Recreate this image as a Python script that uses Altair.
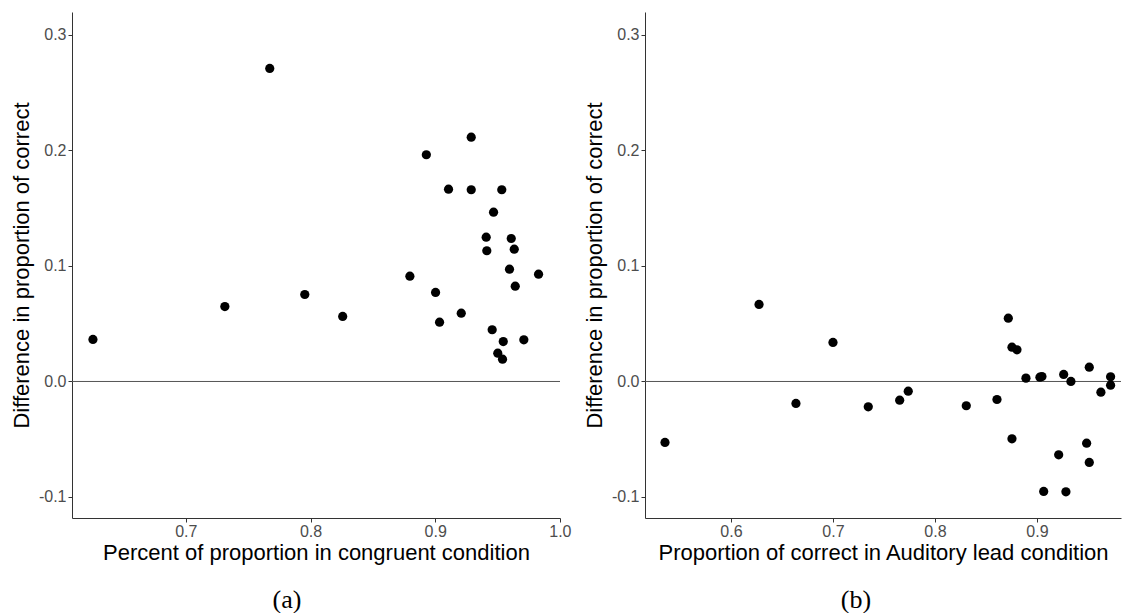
import altair as alt
import pandas as pd

# Panel (a): congruent condition
a_x = [0.6255, 0.7313, 0.7673, 0.7954, 0.8258, 0.8797, 0.8929, 0.9003, 0.9035,
       0.9107, 0.9209, 0.9289, 0.9289, 0.9409, 0.9414, 0.9468, 0.9534, 0.9457,
       0.9610, 0.9634, 0.9596, 0.9642, 0.9829, 0.9546, 0.9711, 0.9502, 0.9540]
a_y = [0.0364, 0.0649, 0.2710, 0.0753, 0.0563, 0.0912, 0.1963, 0.0771, 0.0513,
       0.1665, 0.0591, 0.2115, 0.1660, 0.1249, 0.1132, 0.1466, 0.1660, 0.0448,
       0.1238, 0.1145, 0.0972, 0.0825, 0.0929, 0.0346, 0.0361, 0.0245, 0.0193]

# Panel (b): auditory lead condition
b_x = [0.5353, 0.6275, 0.6637, 0.7000, 0.7346, 0.7654, 0.7738, 0.8307, 0.8608,
       0.8719, 0.8755, 0.8804, 0.8755, 0.8892, 0.9029, 0.9049, 0.9262, 0.9333,
       0.9513, 0.9627, 0.9722, 0.9722, 0.9213, 0.9487, 0.9513, 0.9066, 0.9284]
b_y = [-0.0528, 0.0667, -0.0190, 0.0338, -0.0219, -0.0162, -0.0084, -0.0210, -0.0156,
       0.0548, 0.0297, 0.0274, -0.0496, 0.0029, 0.0037, 0.0043, 0.0061, 0.0000,
       0.0124, -0.0093, 0.0041, -0.0032, -0.0635, -0.0534, -0.0701, -0.0952, -0.0955]

y_ticks = [-0.1, 0.0, 0.1, 0.2, 0.3]
a_ticks = [0.7, 0.8, 0.9, 1.0]
b_ticks = [0.6, 0.7, 0.8, 0.9]

y_title = "Difference in proportion of correct"
a_title = "Percent of proportion in congruent condition"
b_title = "Proportion of correct in Auditory lead condition"

Y_DOMAIN = [-0.1182, 0.3199]
LABEL_EXPR = "datum.value < 0 ? '-' + format(-datum.value, '.1f') : format(datum.value, '.1f')"


def panel(xs, ys, xdomain, xticks, xtitle, caption, width, dx):
    df = pd.DataFrame({"x": xs, "y": ys})
    xscale = alt.Scale(domain=xdomain, nice=False, zero=False)
    yscale = alt.Scale(domain=Y_DOMAIN, nice=False, zero=False)
    points = alt.Chart(df).mark_circle(size=85, color="black", opacity=1).encode(
        x=alt.X("x:Q", scale=xscale,
                axis=alt.Axis(values=xticks, labelExpr=LABEL_EXPR, title=xtitle)),
        y=alt.Y("y:Q", scale=yscale,
                axis=alt.Axis(values=y_ticks, labelExpr=LABEL_EXPR, title=y_title)),
    )
    zero = alt.Chart(pd.DataFrame({"z": [0.0]})).mark_rule(
        color="#555555", strokeWidth=1
    ).encode(y=alt.Y("z:Q", scale=yscale))
    return alt.layer(zero, points).properties(
        width=width, height=506,
        title=alt.TitleParams(
            text=caption, orient="bottom", anchor="middle", font="Liberation Serif",
            fontSize=26, fontWeight="normal", color="black", offset=24, dx=dx,
        ),
    )


left = panel(a_x, a_y, [0.6087, 1.0001], a_ticks, a_title, "(a)", 488, -29)
right = panel(b_x, b_y, [0.5157, 0.9824], b_ticks, b_title, "(b)", 476, -27)

chart = alt.hconcat(left, right, spacing=12).properties(
    padding={"left": 10, "top": 12, "right": 0, "bottom": 0}
).configure_view(stroke=None).configure_axis(
    grid=False,
    domainColor="#333333",
    domainWidth=1,
    tickColor="#333333",
    tickSize=4,
    labelColor="#4D4D4D",
    labelFont="Liberation Sans",
    labelFontSize=16,
    titleFont="Liberation Sans",
    titleFontSize=22,
    titleFontWeight="normal",
    titleColor="black",
    labelPadding=2,
    titlePadding=5,
).configure_axisX(labelFlush=False, labelPadding=1, titlePadding=3)

chart.save("out.html", embed_options={"renderer": "svg", "actions": False})
